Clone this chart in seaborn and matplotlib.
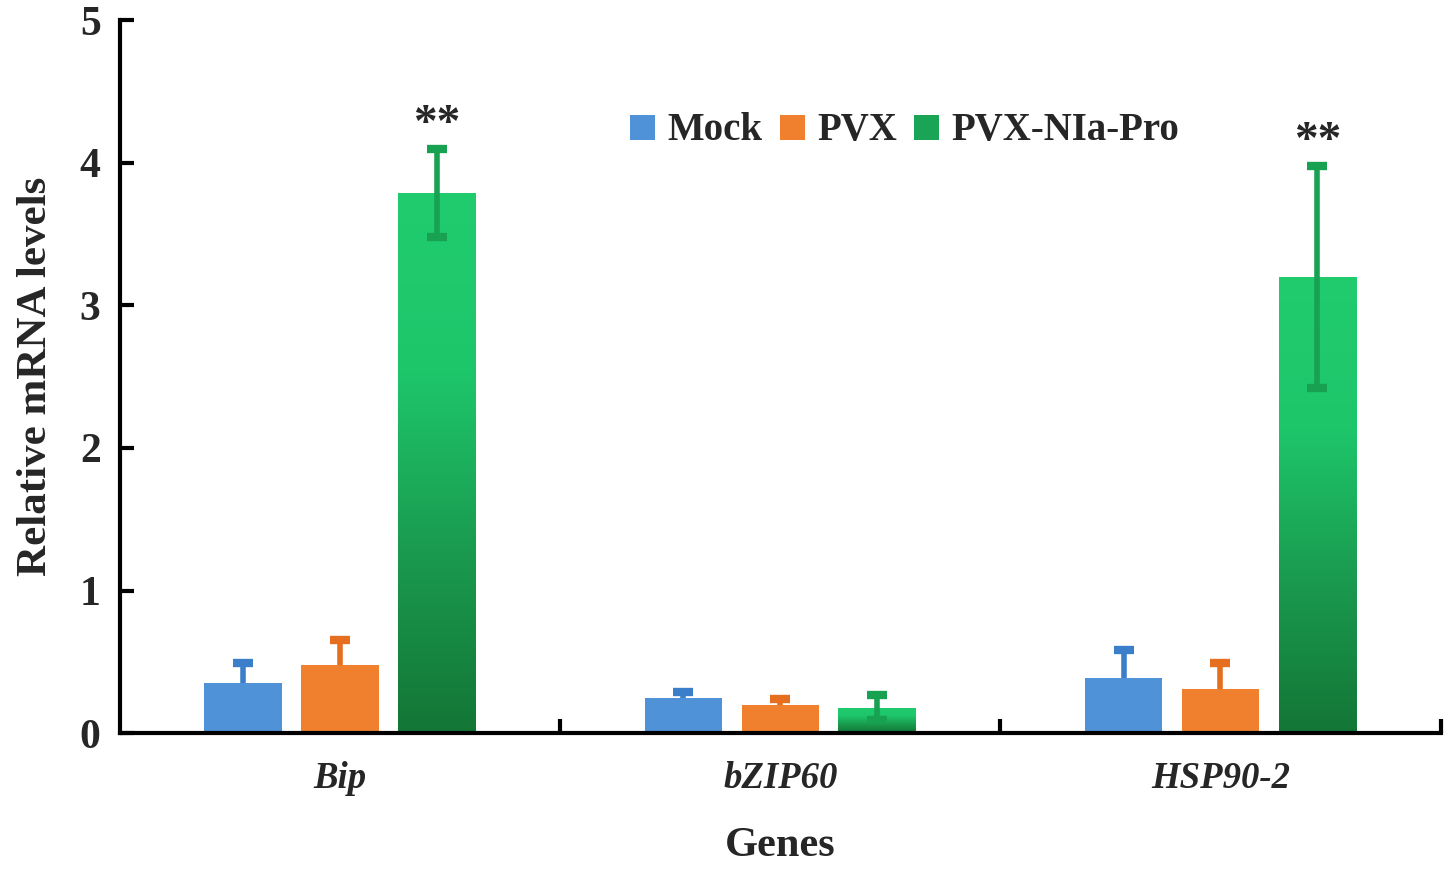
import numpy as np
import pandas as pd
import matplotlib
matplotlib.use("Agg")
import matplotlib.pyplot as plt
import seaborn as sns
from matplotlib.colors import LinearSegmentedColormap
from matplotlib.lines import Line2D

genes = ["Bip", "bZIP60", "HSP90-2"]
groups = ["Mock", "PVX", "PVX-NIa-Pro"]
mock_vals = [0.35, 0.25, 0.39]
mock_err = [0.14, 0.04, 0.19]
pvx_vals = [0.48, 0.20, 0.31]
pvx_err = [0.17, 0.04, 0.18]
nia_vals = [3.79, 0.18, 3.20]
nia_err = [0.31, 0.09, 0.78]
signif = ["**", "", "**"]

colors = {"Mock": "#4f92d8", "PVX": "#f07f2e", "PVX-NIa-Pro": "#1fc26a"}
err_colors = {"Mock": "#3b7fca", "PVX": "#e56f1f", "PVX-NIa-Pro": "#17a150"}

rows = []
for g, vals, errs in [("Mock", mock_vals, mock_err), ("PVX", pvx_vals, pvx_err),
                      ("PVX-NIa-Pro", nia_vals, nia_err)]:
    for gene, v, e in zip(genes, vals, errs):
        rows.append({"Gene": gene, "Group": g, "Value": v, "Err": e})
df = pd.DataFrame(rows)

sns.set_theme(style="white")
plt.rcParams["font.family"] = ["Liberation Serif", "DejaVu Serif"]
plt.rcParams["font.weight"] = "bold"

fig = plt.figure(figsize=(14.56, 8.77), dpi=100)
ax = fig.add_axes([0.0824, 0.164, 0.907, 0.813])

sns.barplot(data=df, x="Gene", y="Value", hue="Group", order=genes, hue_order=groups,
            palette=colors, width=0.66, gap=0.2, errorbar=None, legend=False, ax=ax,
            saturation=1, linewidth=0, zorder=2)

green_cmap = LinearSegmentedColormap.from_list("g", ["#137636", "#1a9a4f", "#1ec66a", "#20cc6e"])
grad = np.linspace(0, 1, 256).reshape(-1, 1)

patches = list(ax.patches)
for gi, g in enumerate(groups):
    sub = df[df["Group"] == g].set_index("Gene").loc[genes]
    bars = patches[gi * len(genes):(gi + 1) * len(genes)]
    xs = [b.get_x() + b.get_width() / 2 for b in bars]
    z = 3 if g == "PVX-NIa-Pro" else 1
    ax.errorbar(xs, sub["Value"], yerr=sub["Err"], fmt="none", ecolor=err_colors[g],
                elinewidth=4, capsize=7, capthick=6, zorder=z)
    if g == "PVX-NIa-Pro":
        for b, s, v, e in zip(bars, signif, sub["Value"], sub["Err"]):
            x0, w, h = b.get_x(), b.get_width(), b.get_height()
            im = ax.imshow(grad, cmap=green_cmap, origin="lower", aspect="auto",
                           extent=[x0, x0 + w, 0, h], zorder=2)
            im.set_clip_path(b)
            b.set_alpha(0)
            if s:
                ax.annotate(s, (x0 + w / 2, v + e), xytext=(0, 2), textcoords="offset points",
                            ha="center", va="bottom", fontsize=34, fontweight="bold")

ax.set_xlim(-0.5, 2.5)
ax.set_ylim(0, 5)
ax.set_yticks([0, 1, 2, 3, 4, 5])
ax.set_xticks([0, 1, 2])
ax.set_xticks([0.5, 1.5, 2.5], minor=True)
ax.set_xticklabels(genes, fontsize=26.5, fontweight="bold", fontstyle="italic")
ax.tick_params(axis="x", which="major", length=0, pad=20)
ax.tick_params(axis="x", which="minor", direction="in", length=10, width=3, color="black", bottom=True)
ax.tick_params(axis="y", direction="in", length=10, width=3, color="black", labelsize=30, pad=14, left=True)
for lbl in ax.get_yticklabels():
    lbl.set_fontweight("bold")

for side in ["top", "right"]:
    ax.spines[side].set_visible(False)
for side in ["left", "bottom"]:
    ax.spines[side].set_color("black")
    ax.spines[side].set_linewidth(3)

ax.set_xlabel("Genes", fontsize=30.5, fontweight="bold", labelpad=22)
ax.set_ylabel("Relative mRNA levels", fontsize=31, fontweight="bold", labelpad=18)

handles = [Line2D([0], [0], marker="s", linestyle="none", markersize=18,
                  markerfacecolor=colors[g] if g != "PVX-NIa-Pro" else "#1aa556",
                  markeredgewidth=0) for g in groups]
leg = ax.legend(handles, groups, ncol=3, loc="upper center", bbox_to_anchor=(0.59, 0.92),
                frameon=False, handletextpad=0.05, columnspacing=0.15, handlelength=1.2,
                prop={"weight": "bold", "size": 28})

fig.savefig("out.png", dpi=100, facecolor="white")
